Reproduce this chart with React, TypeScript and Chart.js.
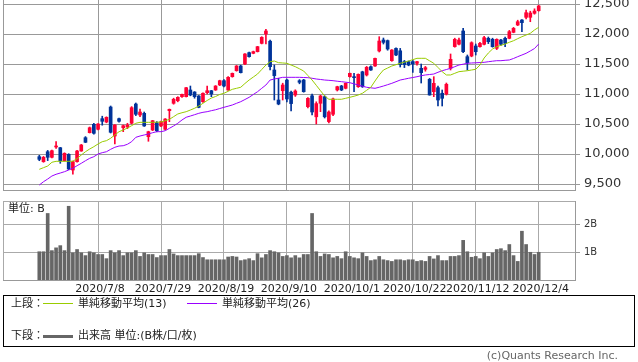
import React, { useEffect, useRef } from "react";
import { Chart, registerables } from "chart.js";

Chart.register(...registerables);

const FONT = "'DejaVu Sans', 'Noto Sans CJK JP', sans-serif";
const JP_FONT = "'DejaVu Sans', 'Noto Sans CJK JP', sans-serif";

// ---- data ----
const open = [
  9955, 9872, 10038, 9945, 10117, 10105, 9888, 9995, 9733, 9872,
  10050, 10272, 10355, 10495, 10412, 10589, 10533, 10783, 10300, 10589,
  10438, 10450, 10512, 10833, 10650, 10678, 10288, 10400, 10522, 10467,
  10412, 10722, 10845, 10888, 10955, 10955, 11067, 11033, 10967, 10872,
  11022, 11055, 11067, 11150, 11222, 11067, 11289, 11389, 11467, 11500,
  11689, 11678, 11706, 11844, 12000, 11880, 11400, 10900, 11055, 11233,
  11030, 10983, 11222, 11233, 10789, 10970, 10620, 10845, 10955, 10540,
  10662, 11067, 11133, 11095, 11289, 11289, 11122, 11370, 11317, 11455,
  11467, 11717, 11900, 11890, 11555, 11760, 11720, 11540, 11539, 11540,
  11511, 11428, 11411, 11245, 11039, 11105, 11012, 11000, 11428, 11790,
  11830, 12050, 11622, 11633, 11800, 11789, 11828, 11928, 11911, 11761,
  11900, 11928, 11928, 12028, 12150, 12233, 12278, 12278, 12345, 12389,
];
const high = [
  9978, 9960, 10060, 10065, 10205, 10110, 10020, 10005, 9880, 10060,
  10160, 10290, 10450, 10510, 10505, 10630, 10620, 10800, 10490, 10600,
  10483, 10512, 10790, 10850, 10750, 10700, 10380, 10560, 10540, 10550,
  10590, 10750, 10930, 10955, 11000, 11110, 11133, 11040, 10975, 11020,
  11133, 11060, 11140, 11230, 11240, 11290, 11350, 11475, 11480, 11675,
  11700, 11715, 11795, 11955, 12078, 11900, 11483, 11262, 11180, 11250,
  11050, 11070, 11240, 11245, 10940, 11000, 10870, 10980, 10970, 10720,
  10930, 11130, 11145, 11185, 11350, 11345, 11335, 11380, 11460, 11470,
  11600, 11955, 11933, 11900, 11740, 11770, 11760, 11560, 11550, 11560,
  11545, 11500, 11460, 11260, 11289, 11133, 11067, 11183, 11667, 11930,
  11930, 12095, 11650, 11870, 11833, 11860, 11960, 11950, 11930, 11920,
  11910, 11950, 12060, 12110, 12230, 12240, 12400, 12380, 12420, 12480,
];
const low = [
  9888, 9862, 9890, 9935, 10095, 9845, 9880, 9740, 9662, 9865,
  10045, 10190, 10350, 10330, 10400, 10480, 10520, 10350, 10170, 10530,
  10372, 10422, 10500, 10640, 10622, 10460, 10212, 10390, 10370, 10455,
  10400, 10538, 10830, 10870, 10945, 10950, 10970, 10930, 10770, 10860,
  11000, 10955, 11060, 11140, 11120, 11060, 11280, 11380, 11350, 11490,
  11615, 11670, 11700, 11835, 11833, 11400, 10900, 10820, 10900, 10870,
  10720, 10960, 11170, 11030, 10770, 10650, 10500, 10705, 10600, 10520,
  10640, 11050, 11055, 11085, 11280, 11039, 11110, 11110, 11300, 11395,
  11460, 11700, 11833, 11730, 11545, 11640, 11450, 11440, 11470, 11360,
  11480, 11183, 11380, 10980, 10955, 10800, 10800, 10983, 11400, 11780,
  11820, 11689, 11400, 11620, 11650, 11780, 11820, 11840, 11780, 11740,
  11810, 11789, 11920, 12020, 12140, 12039, 12250, 12205, 12330, 12380,
];
const close = [
  9911, 9945, 9945, 10055, 10133, 9888, 10011, 9750, 9872, 10050,
  10150, 10195, 10438, 10345, 10500, 10545, 10611, 10362, 10483, 10545,
  10472, 10483, 10772, 10662, 10700, 10467, 10372, 10555, 10388, 10538,
  10583, 10745, 10912, 10945, 10995, 11105, 10983, 10955, 10778, 11012,
  11055, 11000, 11133, 11222, 11133, 11278, 11345, 11467, 11355, 11667,
  11622, 11706, 11789, 11944, 12050, 11455, 11306, 10833, 11150, 10917,
  10840, 11050, 11195, 11039, 10928, 10700, 10840, 10967, 10620, 10700,
  10917, 11122, 11067, 11178, 11345, 11272, 11328, 11120, 11445, 11400,
  11594, 11883, 11861, 11750, 11733, 11650, 11490, 11490, 11483, 11500,
  11539, 11355, 11439, 10983, 11178, 10900, 10928, 11162, 11578, 11911,
  11900, 11705, 11522, 11855, 11705, 11844, 11939, 11872, 11789, 11911,
  11828, 11845, 12039, 12094, 12205, 12189, 12355, 12350, 12383, 12467,
];
const sma13 = [
  9745, 9772, 9800, 9862, 9878, 9878, 9878, 9878, 9880, 9922,
  9983, 10038, 10083, 10122, 10167, 10205, 10222, 10262, 10317, 10372,
  10400, 10433, 10472, 10512, 10528, 10528, 10528, 10528, 10530, 10533,
  10555, 10578, 10622, 10667, 10688, 10705, 10733, 10762, 10800, 10845,
  10892, 10933, 10958, 10992, 11012, 11045, 11078, 11095, 11112, 11175,
  11233, 11283, 11333, 11408, 11483, 11538, 11550, 11522, 11517, 11512,
  11483, 11455, 11420, 11383, 11308, 11233, 11145, 11055, 10967, 10912,
  10912, 10912, 10912, 10928, 10945, 10963, 10983, 11012, 11062, 11112,
  11217, 11317, 11400, 11433, 11467, 11488, 11512, 11530, 11550, 11572,
  11595, 11595, 11595, 11553, 11512, 11442, 11372, 11317, 11317, 11345,
  11372, 11380, 11388, 11400, 11412, 11483, 11600, 11683, 11750, 11788,
  11812, 11833, 11862, 11888, 11922, 11955, 11983, 12012, 12067, 12112,
];
const sma26 = [
  9483, 9538, 9583, 9633, 9662, 9683, 9705, 9733, 9762, 9805,
  9845, 9888, 9928, 9955, 10000, 10022, 10038, 10078, 10112, 10133,
  10138, 10162, 10205, 10278, 10300, 10317, 10333, 10355, 10372, 10372,
  10388, 10428, 10467, 10512, 10567, 10612, 10633, 10655, 10678, 10695,
  10705, 10722, 10737, 10758, 10778, 10797, 10817, 10845, 10872, 10908,
  10945, 10992, 11038, 11095, 11150, 11233, 11250, 11263, 11278, 11278,
  11278, 11278, 11278, 11275, 11272, 11262, 11250, 11242, 11233, 11228,
  11222, 11213, 11205, 11197, 11188, 11170, 11150, 11130, 11112, 11103,
  11095, 11113, 11133, 11155, 11178, 11205, 11233, 11247, 11262, 11275,
  11288, 11305, 11317, 11325, 11333, 11362, 11388, 11408, 11428, 11455,
  11483, 11497, 11512, 11517, 11520, 11525, 11528, 11538, 11547, 11555,
  11555, 11562, 11567, 11592, 11622, 11650, 11678, 11717, 11758, 11833,
];
const volume = [
  1.02, 1.02, 2.4, 1.06, 1.16, 1.24, 1.06, 2.66, 0.98, 1.1,
  0.98, 0.88, 1.02, 0.98, 0.92, 0.92, 0.77, 1.06, 0.98, 1.06,
  0.88, 0.98, 0.98, 1.06, 0.85, 0.98, 0.92, 0.92, 0.81, 0.88,
  0.88, 1.1, 0.94, 0.88, 0.88, 0.88, 0.88, 0.88, 0.95, 0.81,
  0.73, 0.73, 0.73, 0.73, 0.73, 0.83, 0.85, 0.83, 0.7, 0.73,
  0.77, 0.7, 0.95, 0.8, 0.92, 1.06, 1.02, 0.98, 0.85, 0.88,
  0.8, 0.88, 0.8, 0.92, 0.92, 2.4, 1.02, 0.85, 0.94, 0.92,
  0.8, 0.85, 0.77, 1.02, 0.85, 0.8, 0.77, 0.98, 0.85, 0.7,
  0.73, 0.85, 0.73, 0.7, 0.67, 0.73, 0.73, 0.7, 0.73, 0.73,
  0.67, 0.7, 0.67, 0.85, 0.76, 0.88, 0.7, 0.7, 0.85, 0.85,
  0.88, 1.43, 1.02, 0.82, 0.85, 0.77, 0.98, 0.85, 0.98, 1.1,
  1.13, 1.06, 1.28, 0.88, 0.67, 1.76, 1.28, 1.0, 0.92, 1.0,
];
const tickIndex = [14, 29, 44, 59, 74, 89, 104, 119];
const tickLabels = [
  "2020/7/8", "2020/7/29", "2020/8/19", "2020/9/10",
  "2020/10/1", "2020/10/22", "2020/11/12", "2020/12/4",
];
const priceTicks = [9500, 10000, 10500, 11000, 11500, 12000, 12500];
const volumeTicks = [1, 2];

// ---- axis ranges ----
const X_MIN = -8.65;
const X_MAX = 127.65;
const Y_MIN = 9400;
const Y_MAX = 12566.7;
const V_MAX = 2.85;

const RED = "#ff0033";
const BLUE = "#003399";
const GREEN = "#99cc00";
const PURPLE = "#9900ff";
const VOL = "#666666";

const labelFor = (v: number) => {
  const k = tickIndex.indexOf(v);
  return k >= 0 ? tickLabels[k] : "";
};

export default function App() {
  const priceRef = useRef<HTMLCanvasElement | null>(null);
  const volRef = useRef<HTMLCanvasElement | null>(null);

  useEffect(() => {
    Chart.defaults.font.family = FONT;
    const idx = close.map((_, i) => i);
    const colors = idx.map((i) => (close[i] >= open[i] ? RED : BLUE));

    const price = new Chart(priceRef.current as HTMLCanvasElement, {
      type: "bar",
      data: {
        datasets: [
          {
            type: "line",
            label: "sma13",
            data: sma13.map((v, i) => ({ x: i, y: v })),
            borderColor: GREEN,
            borderWidth: 1,
            pointRadius: 0,
            tension: 0,
            order: 0,
          } as any,
          {
            type: "line",
            label: "sma26",
            data: sma26.map((v, i) => ({ x: i, y: v })),
            borderColor: PURPLE,
            borderWidth: 1,
            pointRadius: 0,
            tension: 0,
            order: 1,
          } as any,
          {
            type: "bar",
            label: "body",
            data: idx.map((i) => ({ x: i, y: [open[i], close[i]] })),
            backgroundColor: colors,
            barThickness: 3,
            grouped: false,
            minBarLength: 1,
            borderWidth: 0,
            order: 2,
          } as any,
          {
            type: "bar",
            label: "wick",
            data: idx.map((i) => ({ x: i, y: [low[i], high[i]] })),
            backgroundColor: colors,
            barThickness: 1,
            grouped: false,
            borderWidth: 0,
            order: 3,
          } as any,
        ],
      },
      options: {
        animation: false,
        responsive: false,
        events: [],
        layout: { padding: { left: 3, top: 0, right: 0, bottom: 2 } },
        plugins: { legend: { display: false }, tooltip: { enabled: false } },
        scales: {
          x: {
            type: "linear",
            min: X_MIN,
            max: X_MAX,
            offset: false,
            grid: { offset: false, color: "#999", drawTicks: false, lineWidth: 1 },
            border: { display: true, color: "#999" },
            ticks: { display: false },
            afterBuildTicks: (s: any) => {
              s.ticks = [X_MIN, ...tickIndex].map((v) => ({ value: v }));
            },
            afterFit: (s: any) => {
              s.height = 0;
              s.paddingLeft = 0;
              s.paddingRight = 0;
            },
          },
          y: {
            type: "linear",
            position: "right",
            min: Y_MIN,
            max: Y_MAX,
            beginAtZero: false,
            grid: { color: "#999", tickLength: 5, tickColor: "#999" },
            border: { display: true, color: "#999" },
            ticks: {
              font: { size: 13, family: FONT },
              color: "#333",
              padding: 4,
              callback: (v: any) => Number(v).toLocaleString("en-US"),
            },
            afterBuildTicks: (s: any) => {
              s.ticks = priceTicks.map((v) => ({ value: v }));
            },
            afterFit: (s: any) => {
              s.width = 63;
              s.paddingTop = 0;
              s.paddingBottom = 0;
            },
          },
        },
      } as any,
    });

    const vol = new Chart(volRef.current as HTMLCanvasElement, {
      type: "bar",
      data: {
        datasets: [
          {
            label: "volume",
            data: volume.map((v, i) => ({ x: i, y: v })),
            backgroundColor: VOL,
            barThickness: 3,
            grouped: false,
            borderWidth: 0,
          } as any,
        ],
      },
      options: {
        animation: false,
        responsive: false,
        events: [],
        layout: { padding: { left: 3, top: 6, right: 0, bottom: 0 } },
        plugins: { legend: { display: false }, tooltip: { enabled: false } },
        scales: {
          x: {
            type: "linear",
            min: X_MIN,
            max: X_MAX,
            offset: false,
            grid: { offset: false, color: "#aaa", drawTicks: false },
            border: { display: true, color: "#999" },
            ticks: {
              font: { size: 11, family: FONT },
              color: "#222",
              padding: 3,
              labelOffset: 2,
              maxRotation: 0,
              autoSkip: false,
              callback: (v: any) => labelFor(Number(v)),
            },
            afterBuildTicks: (s: any) => {
              s.ticks = [X_MIN, ...tickIndex].map((v) => ({ value: v }));
            },
            afterFit: (s: any) => {
              s.height = 20;
              s.paddingLeft = 0;
              s.paddingRight = 0;
            },
          },
          y: {
            type: "linear",
            position: "right",
            min: 0,
            max: V_MAX,
            beginAtZero: true,
            grid: {
              color: "#aaa",
              tickLength: 5,
              tickColor: (ctx: any) =>
                ctx.tick && ctx.tick.value === V_MAX ? "rgba(0,0,0,0)" : "#999",
            },
            border: { display: true, color: "#999" },
            ticks: {
              font: { size: 10, family: FONT },
              color: "#333",
              padding: 4,
              callback: (v: any) => (Number(v) === V_MAX ? "" : `${v}B`),
            },
            afterBuildTicks: (s: any) => {
              s.ticks = [...volumeTicks, V_MAX].map((v) => ({ value: v }));
            },
            afterFit: (s: any) => {
              s.width = 63;
              s.paddingTop = 0;
              s.paddingBottom = 0;
            },
          },
        },
      } as any,
    });

    return () => {
      price.destroy();
      vol.destroy();
    };
  }, []);

  const text = (extra: React.CSSProperties): React.CSSProperties => ({
    position: "absolute",
    fontFamily: JP_FONT,
    fontSize: 11,
    lineHeight: "13px",
    color: "#222",
    whiteSpace: "nowrap",
    ...extra,
  });

  return (
    <div
      style={{
        position: "absolute",
        left: 0,
        top: 0,
        width: 638,
        height: 362,
        background: "#fff",
        overflow: "hidden",
      }}
    >
      <canvas
        ref={priceRef}
        width={638}
        height={192}
        style={{ position: "absolute", left: 0, top: 0, width: 638, height: 192 }}
      />
      <canvas
        ref={volRef}
        width={638}
        height={105}
        style={{ position: "absolute", left: 0, top: 195, width: 638, height: 105 }}
      />
      <div style={text({ left: 8, top: 202 })}>単位: B</div>

      <div
        style={{
          position: "absolute",
          left: 3,
          top: 295,
          width: 632,
          height: 52,
          border: "1px solid #000",
          boxSizing: "border-box",
        }}
      />
      <div style={text({ left: 11, top: 297 })}>上段：</div>
      <div style={{ position: "absolute", left: 43, top: 303, width: 30, height: 1, background: GREEN }} />
      <div style={text({ left: 78, top: 297 })}>単純移動平均(13)</div>
      <div style={{ position: "absolute", left: 187, top: 303, width: 30, height: 1, background: PURPLE }} />
      <div style={text({ left: 222, top: 297 })}>単純移動平均(26)</div>

      <div style={text({ left: 11, top: 329 })}>下段：</div>
      <div style={{ position: "absolute", left: 43, top: 335, width: 30, height: 3, background: VOL }} />
      <div style={text({ left: 78, top: 329 })}>出来高 単位:(B株/口/枚)</div>

      <div style={text({ right: 20, top: 349, color: "#666", fontSize: 11 })}>
        (c)Quants Research Inc.
      </div>
    </div>
  );
}
